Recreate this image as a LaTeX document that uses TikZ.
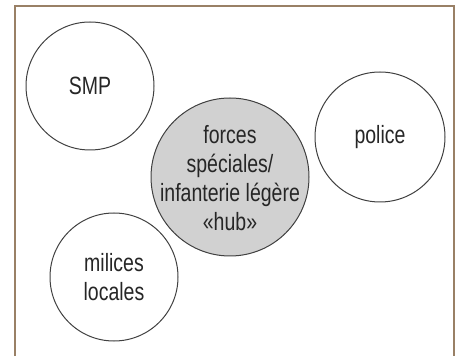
\documentclass[tikz,border=0pt]{standalone}
\usepackage{fontspec}
\setmainfont{Liberation Sans}[FakeStretch=0.78]
\usepackage{tikz}

\begin{document}
\begin{tikzpicture}[x=1pt,y=1pt,
  ring/.style={draw=black!75,line width=1pt},
  word/.style={align=center,inner sep=0pt,font=\fontsize{25}{29}\selectfont,text=black!85}]
  \useasboundingbox (0,0) rectangle (455,356);
  \draw[line width=1.6pt,draw=brown!40!gray] (15,0) -- (15,350) -- (454,350) -- (454,0);
  \draw[ring] (90,270) circle [radius=64];
  \draw[ring] (380,219) circle [radius=65];
  \draw[ring,fill=black!18] (230,179) circle [radius=79];
  \draw[ring] (114,79) circle [radius=64];
  \node[word] (smp) at (90,270) {SMP};
  \node[word] (police) at (380,219) {police};
  \node[word] (hub) at (230,178) {forces\\spéciales/\\infanterie légère\\«hub»};
  \node[word] (milices) at (114,79) {milices\\locales};
\end{tikzpicture}
\end{document}
